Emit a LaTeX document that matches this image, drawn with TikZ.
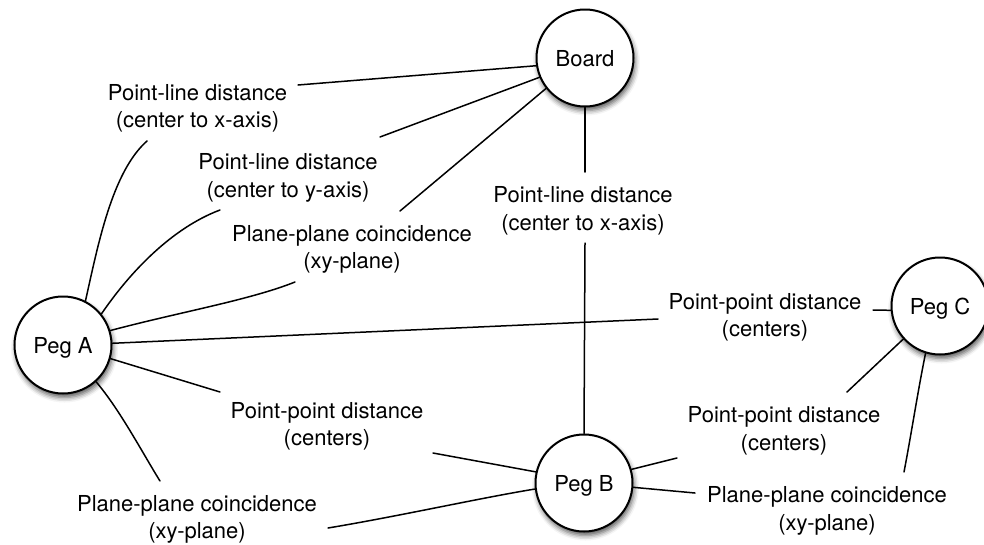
\documentclass[tikz,border=0pt]{standalone}
\usepackage{fontspec}
\setmainfont{TeX Gyre Heros}
\usetikzlibrary{shadows.blur,backgrounds}
\begin{document}
\begin{tikzpicture}[x=1pt,y=-1pt,
  peg/.style={circle,draw=black,line width=2pt,fill=white,minimum size=97pt,inner sep=0pt,
    text depth=0pt,font=\fontsize{22}{26}\selectfont,
    blur shadow={shadow xshift=1.5pt,shadow yshift=-4pt,shadow blur radius=5pt,shadow opacity=65}},
  rel/.style={align=center,inner sep=0pt,font=\fontsize{22}{27.5}\selectfont},
  link/.style={draw=black,line width=1.5pt,line cap=round}]
\useasboundingbox (0,0) rectangle (984,544);

% relation labels
\node[rel] (L1) at (197.5,108.3) {Point-line distance\\(center to x-axis)};
\node[rel] (L2) at (288,177.8) {Point-line distance\\(center to y-axis)};
\node[rel] (L3) at (352,249.3) {Plane-plane coincidence\\(xy-plane)};
\node[rel] (L4) at (583,210.8) {Point-line distance\\(center to x-axis)};
\node[rel] (L5) at (765,317.3) {Point-point distance\\(centers)};
\node[rel] (L6) at (327,426.3) {Point-point distance\\(centers)};
\node[rel] (L7) at (197,519.3) {Plane-plane coincidence\\(xy-plane)};
\node[rel] (L8) at (784,430.8) {Point-point distance\\(centers)};
\node[rel] (L9) at (827,510.8) {Plane-plane coincidence\\(xy-plane)};

% where the connectors stop next to the labels
\coordinate (c1a) at (298,85);   \coordinate (c1b) at (147,141);
\coordinate (c2a) at (380,137);  \coordinate (c2b) at (220,210);
\coordinate (c3a) at (400,211);  \coordinate (c3b) at (295,282);
\coordinate (c4a) at (585,172);  \coordinate (c4b) at (585,243);
\coordinate (c5a) at (658,319);  \coordinate (c5b) at (873,310);
\coordinate (c6a) at (220,392);  \coordinate (c6b) at (433,453);
\coordinate (c7a) at (160,481);  \coordinate (c7b) at (328,528);
\coordinate (c8a) at (677,458);  \coordinate (c8b) at (847,392);
\coordinate (c9a) at (695,493);  \coordinate (c9b) at (904,472);

% object nodes
\node[peg] (Board) at (585,58)  {Board};
\node[peg] (PegA)  at (63,345)  {Peg A};
\node[peg] (PegB)  at (584,483) {Peg B};
\node[peg] (PegC)  at (940,306) {Peg C};

% connectors, kept beneath the circles
\begin{scope}[on background layer]
  % Board
  \draw[link] (Board.189) -- (c1a);
  \draw[link] (Board.203) -- (c2a);
  \draw[link] (Board.218) -- (c3a);
  \draw[link] (Board.south) -- (c4a);
  % Peg A
  \draw[link] (PegA.63) .. controls (98,245) and (112,172) .. (c1b);
  \draw[link] (PegA.39) .. controls (130,272) and (172,228) .. (c2b);
  \draw[link] (PegA.17) .. controls (180,312) and (250,300) .. (c3b);
  \draw[link] (PegA.2) -- (c5a);
  \draw[link] (PegA.344) -- (c6a);
  \draw[link] (PegA.312) .. controls (120,410) and (142,452) .. (c7a);
  % Peg B
  \draw[link] (c4b) -- (PegB.north);
  \draw[link] (c6b) -- (PegB.167);
  \draw[link] (c7b) .. controls (400,516) and (480,498) .. (PegB.187);
  \draw[link] (PegB.16) -- (c8a);
  \draw[link] (PegB.355) -- (c9a);
  % Peg C
  \draw[link] (c5b) -- (PegC.185);
  \draw[link] (c8b) -- (PegC.222);
  \draw[link] (c9b) .. controls (912,430) and (918,390) .. (PegC.253);
\end{scope}
\end{tikzpicture}
\end{document}
